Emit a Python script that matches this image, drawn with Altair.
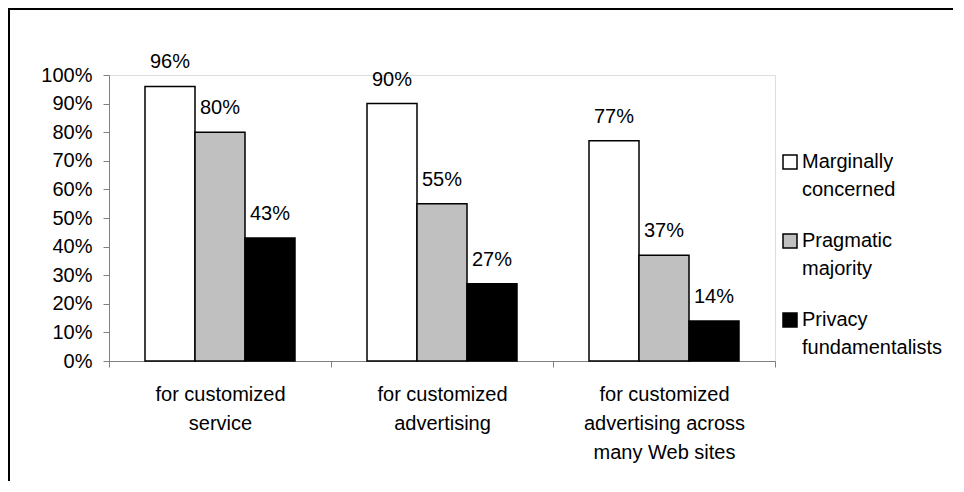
import altair as alt
import pandas as pd

categories = ["for customized|service", "for customized|advertising",
              "for customized|advertising across|many Web sites"]
series = ["Marginally concerned", "Pragmatic majority", "Privacy fundamentalists"]
marginally = [0.96, 0.90, 0.77]
pragmatic = [0.80, 0.55, 0.37]
privacy = [0.43, 0.27, 0.14]
y_ticks = [0, 0.1, 0.2, 0.3, 0.4, 0.5, 0.6, 0.7, 0.8, 0.9, 1.0]
colors = ["white", "#C0C0C0", "black"]

rows = []
for s, vals in zip(series, [marginally, pragmatic, privacy]):
    for c, v in zip(categories, vals):
        rows.append({"category": c, "series": s, "value": v})
df = pd.DataFrame(rows)
frame_df = pd.DataFrame({"k": [0]})

FONT = "Liberation Sans"
FS = 20

color_enc = alt.Color(
    "series:N", sort=series,
    scale=alt.Scale(domain=series, range=colors),
    legend=alt.Legend(
        title=None, orient="none", legendX=671, legendY=83,
        labelExpr="split(datum.label, ' ')",
        symbolType="M-1,-1.857H1V0.143H-1Z", symbolSize=196,
        symbolStrokeColor="black", symbolStrokeWidth=1.5, symbolOpacity=1,
        labelFontSize=FS, labelFont=FONT, labelColor="black",
        labelBaseline="alphabetic", labelOffset=2,
        labelLimit=400, rowPadding=31, padding=0,
    ),
)
x_enc = alt.X("category:N", sort=categories,
              scale=alt.Scale(paddingInner=0, paddingOuter=0),
              axis=alt.Axis(title=None, labelExpr="split(datum.label, '|')",
                            labelAngle=0, tickBand="extent", tickSize=6,
                            grid=False, labelPadding=17, labelLineHeight=29,
                            labelFontSize=FS, labelFont=FONT, labelColor="black",
                            domainColor="#808080", tickColor="#808080"))
xoff_enc = alt.XOffset("series:N", sort=series,
                       scale=alt.Scale(paddingInner=0, paddingOuter=0.72))
y_enc = alt.Y("value:Q", scale=alt.Scale(domain=[0, 1]),
              axis=alt.Axis(title=None, values=y_ticks, format=".0%", grid=False,
                            tickSize=6, labelPadding=11, labelFontSize=FS,
                            labelFont=FONT, labelColor="black",
                            domainColor="#808080", tickColor="#808080"))

bars = alt.Chart(df).mark_bar(stroke="black", strokeWidth=1.5).encode(
    x=x_enc, xOffset=xoff_enc, y=y_enc, color=color_enc,
)

labels = alt.Chart(df).mark_text(baseline="alphabetic", dy=-18, fontSize=FS,
                                 font=FONT, color="black").encode(
    x=x_enc, xOffset=xoff_enc, y=y_enc,
    text=alt.Text("value:Q", format=".0%"),
)

frame_left = alt.Chart(frame_df).mark_rule(color="black", strokeWidth=2).encode(
    x=alt.value(-100), y=alt.value(-66), y2=alt.value(430))
frame_top = alt.Chart(frame_df).mark_rule(color="black", strokeWidth=2).encode(
    x=alt.value(-101), x2=alt.value(900), y=alt.value(-66))

chart = alt.layer(bars, labels, frame_left, frame_top).properties(
    width=666, height=286,
    autosize=alt.AutoSizeParams(type="none"),
    padding={"left": 101, "top": 67, "right": 178, "bottom": 120},
).configure_view(strokeWidth=0).configure(
    font=FONT, style={"guide-label": {"lineHeight": 28}}
)

chart.save("out.html", embed_options={"renderer": "svg", "actions": False})
